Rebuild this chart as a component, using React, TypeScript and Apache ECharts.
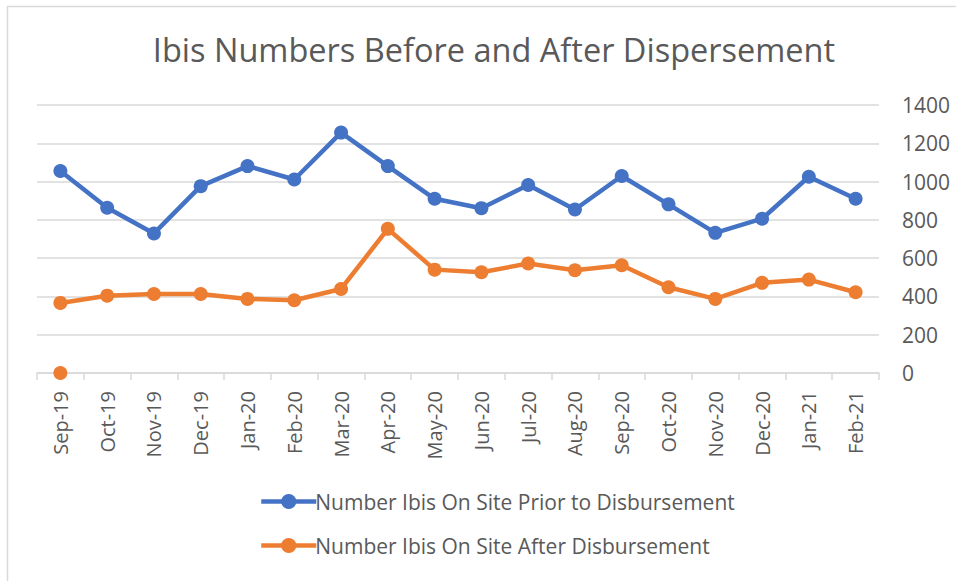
import React, { useEffect, useRef } from "react";
import * as echarts from "echarts";

const categories = [
  "Sep-19", "Oct-19", "Nov-19", "Dec-19", "Jan-20", "Feb-20", "Mar-20", "Apr-20", "May-20",
  "Jun-20", "Jul-20", "Aug-20", "Sep-20", "Oct-20", "Nov-20", "Dec-20", "Jan-21", "Feb-21",
];
const priorValues = [1055, 863, 729, 976, 1081, 1011, 1256, 1081, 910, 861, 982, 854, 1029, 881, 732, 806, 1025, 910];
const afterValues = [366, 404, 413, 413, 387, 380, 439, 753, 540, 526, 572, 537, 563, 448, 387, 471, 488, 422];
const strayAfterValues = [0, null, null, null, null, null, null, null, null, null, null, null, null, null, null, null, null, null];
const yTicks = { min: 0, max: 1400, interval: 200 };

const TITLE = "Ibis Numbers Before and After Dispersement";
const PRIOR = "Number Ibis On Site Prior to Disbursement";
const AFTER = "Number Ibis On Site After Disbursement";

const FONT = "'Open Sans', 'Noto Sans', sans-serif";
const TEXT = "#595959";
const GRID = "#d9d9d9";
const BLUE = "#4472C4";
const ORANGE = "#ED7D31";

export default function App() {
  const ref = useRef<HTMLDivElement>(null);
  useEffect(() => {
    if (!ref.current) return;
    const chart = echarts.init(ref.current, undefined, { renderer: "svg" });
    const lineSeries = (name: string, data: (number | null)[], color: string) => ({
      name,
      type: "line",
      data,
      symbol: "circle",
      symbolSize: 14,
      lineStyle: { color, width: 4.5 },
      itemStyle: { color },
      emphasis: { disabled: true },
    });
    chart.setOption({
      animation: false,
      backgroundColor: "#ffffff",
      title: {
        text: TITLE,
        left: 489,
        top: 28,
        textAlign: "center",
        textStyle: { fontFamily: FONT, fontSize: 32.5, fontWeight: "normal", color: TEXT },
      },
      graphic: [
        { type: "line", shape: { x1: 7.5, y1: 6, x2: 7.5, y2: 581 }, style: { stroke: GRID, lineWidth: 1.5 } },
        { type: "line", shape: { x1: 7, y1: 6.5, x2: 956, y2: 6.5 }, style: { stroke: GRID, lineWidth: 1.5 } },
      ],
      legend: {
        data: [PRIOR, AFTER],
        orient: "vertical",
        left: 254,
        top: 486,
        itemWidth: 55,
        itemHeight: 19,
        itemGap: 23,
        lineStyle: { width: 4.5 },
        textStyle: { fontFamily: FONT, fontSize: 21, color: TEXT, padding: [0, 0, 0, -6] },
      },
      grid: { left: 37, right: 77, top: 105, bottom: 208, containLabel: false },
      xAxis: {
        type: "category",
        data: categories,
        boundaryGap: true,
        axisLine: { lineStyle: { color: GRID, width: 1.5 } },
        axisTick: { show: true, alignWithLabel: false, length: 7, lineStyle: { color: GRID, width: 1.5 } },
        axisLabel: { rotate: 90, interval: 0, margin: 18, fontFamily: FONT, fontSize: 20, color: TEXT },
      },
      yAxis: {
        type: "value",
        position: "right",
        min: yTicks.min,
        max: yTicks.max,
        interval: yTicks.interval,
        axisLine: { show: false },
        axisTick: { show: false },
        splitLine: { lineStyle: { color: GRID, width: 1.5 } },
        axisLabel: {
          margin: 23,
          fontFamily: FONT,
          fontSize: 21,
          color: TEXT,
          formatter: (v: number) => String(v),
        },
      },
      series: [
        lineSeries(PRIOR, priorValues, BLUE),
        lineSeries(AFTER, afterValues, ORANGE),
        { ...lineSeries("", strayAfterValues, ORANGE), showSymbol: true },
      ],
    });
    return () => chart.dispose();
  }, []);
  return (
    <div
      ref={ref}
      style={{ position: "fixed", left: 0, top: 0, width: 956, height: 581 }}
    />
  );
}
